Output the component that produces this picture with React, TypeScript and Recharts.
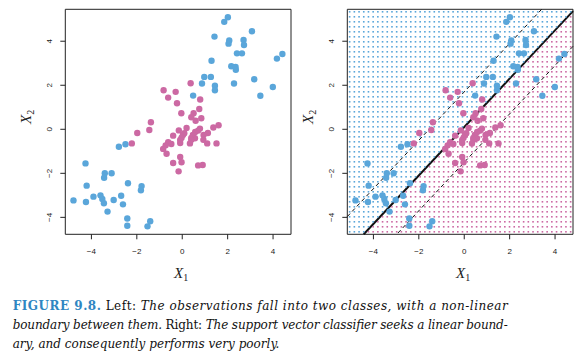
import React from "react"
import {
  Label,
  ReferenceArea,
  ReferenceLine,
  Scatter,
  ScatterChart,
  XAxis,
  YAxis,
} from "recharts"

// observations
const blueX = [2.01, 1.85, 1.42, 3.07, 2.07, 2.04, 2.7, 2.72, 2.41, 2.63, 4.41, 4.17, 1.29, 2.16, 2.35, 2.36, 3.17, 0.97, 1.26, 0.87, 1.44, 1.44, 2.28, 3.99, 3.44, 0.48, -2.79, -2.5, -4.26, -3.41, -3.11, -3.44, -4.21, -2.39, -1.79, -1.82, -4.79, -4.24, -3.91, -3.6, -3.52, -3.45, -3.02, -2.69, -2.61, -3.29, -2.42, -2.42, -1.41, -1.53]
const blueY = [5.09, 4.88, 4.21, 4.45, 4.03, 3.89, 4.06, 3.83, 3.45, 3.45, 3.42, 3.21, 3.11, 2.86, 2.83, 2.7, 2.27, 2.38, 2.38, 2.08, 1.98, 1.77, 2.08, 1.92, 1.52, 1.53, -0.79, -0.68, -1.55, -2.0, -2.0, -2.2, -2.56, -2.45, -2.58, -2.77, -3.23, -3.3, -3.06, -3.0, -3.17, -3.36, -3.21, -3.02, -3.41, -3.74, -4.05, -4.38, -4.18, -4.41]
const pinkX = [0.37, -0.82, -0.29, -0.62, -0.23, 0.79, 0.75, -0.04, 0.5, 0.4, 0.84, 0.59, -1.38, 1.6, 1.37, -1.45, -1.98, 0.19, 0.78, 0.7, 0.57, -0.15, 0.09, 0.03, 1.13, 0.94, 0.47, -0.4, -0.03, 0.4, 0.56, -0.09, 0.4, 0.93, -2.22, -0.62, -0.09, 0.34, 1.1, 1.51, -0.73, -0.48, -0.84, -0.69, -0.09, -0.4, -0.03, 0.7, 0.9, -0.16]
const pinkY = [2.09, 1.77, 1.7, 1.44, 1.18, 1.35, 0.92, 0.73, 0.73, 0.55, 0.5, 0.39, 0.32, 0.18, 0.08, -0.03, -0.17, 0.06, 0.03, -0.06, -0.12, -0.05, -0.18, -0.26, -0.17, -0.26, -0.26, -0.29, -0.38, -0.39, -0.41, -0.48, -0.47, -0.48, -0.64, -0.59, -0.62, -0.64, -0.64, -0.64, -0.73, -0.67, -0.89, -1.11, -1.26, -1.53, -1.5, -1.64, -1.62, -1.91]

const ticks = [-4, -2, 0, 2, 4]
const xDomain = [-5.15, 4.79]
const yDomain = [-4.77, 5.45]

// support vector classifier: y = intercept + slope * x, margins at +/- margin
const svcIntercept = 0.1
const svcSlope = 1.1
const svcMargin = 1.6
const gridCols = 48
const gridRows = 45

const BLUE = "#5aa6da"
const PINK = "#cc69a3"

const blue = blueX.map((x, i) => ({ x, y: blueY[i] }))
const pink = pinkX.map((x, i) => ({ x, y: pinkY[i] }))

// prediction grid coloured by side of the boundary
const gridBlue: { x: number; y: number }[] = []
const gridPink: { x: number; y: number }[] = []
for (let i = 0; i < gridCols; i++) {
  for (let j = 0; j < gridRows; j++) {
    const x = xDomain[0] + ((i + 0.5) * (xDomain[1] - xDomain[0])) / gridCols
    const y = yDomain[0] + ((j + 0.5) * (yDomain[1] - yDomain[0])) / gridRows
    if (y > svcIntercept + svcSlope * x) gridBlue.push({ x, y })
    else gridPink.push({ x, y })
  }
}

// clip a line to the plotting box
function clipLine(a: number, b: number) {
  const pts: { x: number; y: number }[] = []
  for (const x of xDomain) {
    const y = a + b * x
    if (y >= yDomain[0] && y <= yDomain[1]) pts.push({ x, y })
  }
  for (const y of yDomain) {
    const x = (y - a) / b
    if (x > xDomain[0] && x < xDomain[1]) pts.push({ x, y })
  }
  return pts.slice(0, 2)
}

const fmt = (v: number) => (v < 0 ? "\u2212" + Math.abs(v) : String(v))
const tickFont = "'Liberation Sans', Arial, sans-serif"
const serif = "'Liberation Serif', 'Times New Roman', serif"
const capFont = "'DejaVu Serif', serif"

const XTick = ({ x, y, payload }: any) => (
  <text x={x} y={y + 15} textAnchor="middle" fontSize={8} fill="#222" fontFamily={tickFont}>
    {fmt(payload.value)}
  </text>
)

const YTick = ({ x, y, payload }: any) => (
  <text
    transform={`translate(${x - 8.5},${y}) rotate(-90)`}
    textAnchor="middle"
    fontSize={8}
    fill="#222"
    fontFamily={tickFont}
  >
    {fmt(payload.value)}
  </text>
)

const XTitle = ({ viewBox }: any) => (
  <text
    x={viewBox.x + viewBox.width / 2 + 3}
    y={viewBox.y + 44}
    textAnchor="middle"
    fontFamily={serif}
    fontStyle="italic"
    fontSize={15}
    fill="#222"
  >
    X
    <tspan fontSize={10} fontStyle="normal" dy={3}>1</tspan>
  </text>
)

const YTitle = ({ viewBox }: any) => (
  <text
    transform={`translate(${viewBox.x + 30.5},${viewBox.y + viewBox.height / 2 - 5}) rotate(-90)`}
    textAnchor="middle"
    fontFamily={serif}
    fontStyle="italic"
    fontSize={15}
    fill="#222"
  >
    X
    <tspan fontSize={10} fontStyle="normal" dy={3}>2</tspan>
  </text>
)

const GridDot = ({ cx, cy, fill }: any) => (
  <rect x={cx - 0.8} y={cy - 0.8} width={1.6} height={1.6} fill={fill} />
)

const Dot = ({ cx, cy, fill }: any) => <circle cx={cx} cy={cy} r={3.2} fill={fill} />

function Panel({ svc }: { svc: boolean }) {
  const mid = clipLine(svcIntercept, svcSlope)
  const up = clipLine(svcIntercept + svcMargin, svcSlope)
  const lo = clipLine(svcIntercept - svcMargin, svcSlope)
  return (
    <ScatterChart width={300} height={290} margin={{ top: 9.3, right: 9, bottom: 0, left: 0 }}>
      <XAxis
        type="number"
        dataKey="x"
        domain={xDomain}
        ticks={ticks}
        allowDataOverflow
        height={55.7}
        tickSize={5}
        tickMargin={0}
        axisLine={false}
        tickLine={{ stroke: "#222" }}
        tick={<XTick />}
      >
        <Label content={<XTitle />} />
      </XAxis>
      <YAxis
        type="number"
        dataKey="y"
        domain={yDomain}
        ticks={ticks}
        allowDataOverflow
        width={65.3}
        tickSize={5}
        tickMargin={0}
        axisLine={false}
        tickLine={{ stroke: "#222" }}
        tick={<YTick />}
      >
        <Label content={<YTitle />} />
      </YAxis>
      {svc && (
        <Scatter data={gridBlue} fill={BLUE} shape={<GridDot />} isAnimationActive={false} />
      )}
      {svc && (
        <Scatter data={gridPink} fill={PINK} shape={<GridDot />} isAnimationActive={false} />
      )}
      <Scatter data={blue} fill={BLUE} shape={<Dot />} isAnimationActive={false} />
      <Scatter data={pink} fill={PINK} shape={<Dot />} isAnimationActive={false} />
      {svc && (
        <ReferenceLine segment={up} stroke="#111" strokeWidth={1} strokeDasharray="4 3" ifOverflow="visible" />
      )}
      {svc && (
        <ReferenceLine segment={lo} stroke="#111" strokeWidth={1} strokeDasharray="4 3" ifOverflow="visible" />
      )}
      {svc && <ReferenceLine segment={mid} stroke="#111" strokeWidth={2} ifOverflow="visible" />}
      <ReferenceArea
        x1={xDomain[0]}
        x2={xDomain[1]}
        y1={yDomain[0]}
        y2={yDomain[1]}
        fill="none"
        stroke="#222"
        strokeWidth={1}
        fillOpacity={0}
        ifOverflow="visible"
      />
    </ScatterChart>
  )
}

export default function App() {
  return (
    <div style={{ position: "absolute", left: 0, top: 0, width: 586, height: 363, background: "#fff" }}>
      <div style={{ position: "absolute", left: 0, top: 0 }}>
        <Panel svc={false} />
      </div>
      <div style={{ position: "absolute", left: 282, top: 0 }}>
        <Panel svc={true} />
      </div>
      <svg
        width={586}
        height={78}
        style={{ position: "absolute", left: 0, top: 285 }}
        fontFamily={capFont}
        fontSize={12}
        fill="#111"
      >
        <text x={12.7} y={25} textLength={495} lengthAdjust="spacing">
          <tspan fontWeight="bold" fill="#2f86c2">FIGURE 9.8.</tspan>
          <tspan> Left: </tspan>
          <tspan fontStyle="italic">The observations fall into two classes, with a non-linear</tspan>
        </text>
        <text x={12.7} y={44} textLength={495} lengthAdjust="spacing">
          <tspan fontStyle="italic">boundary between them.</tspan>
          <tspan> Right: </tspan>
          <tspan fontStyle="italic">The support vector classifier seeks a linear bound-</tspan>
        </text>
        <text x={12.7} y={63} fontStyle="italic">
          ary, and consequently performs very poorly.
        </text>
      </svg>
    </div>
  )
}
